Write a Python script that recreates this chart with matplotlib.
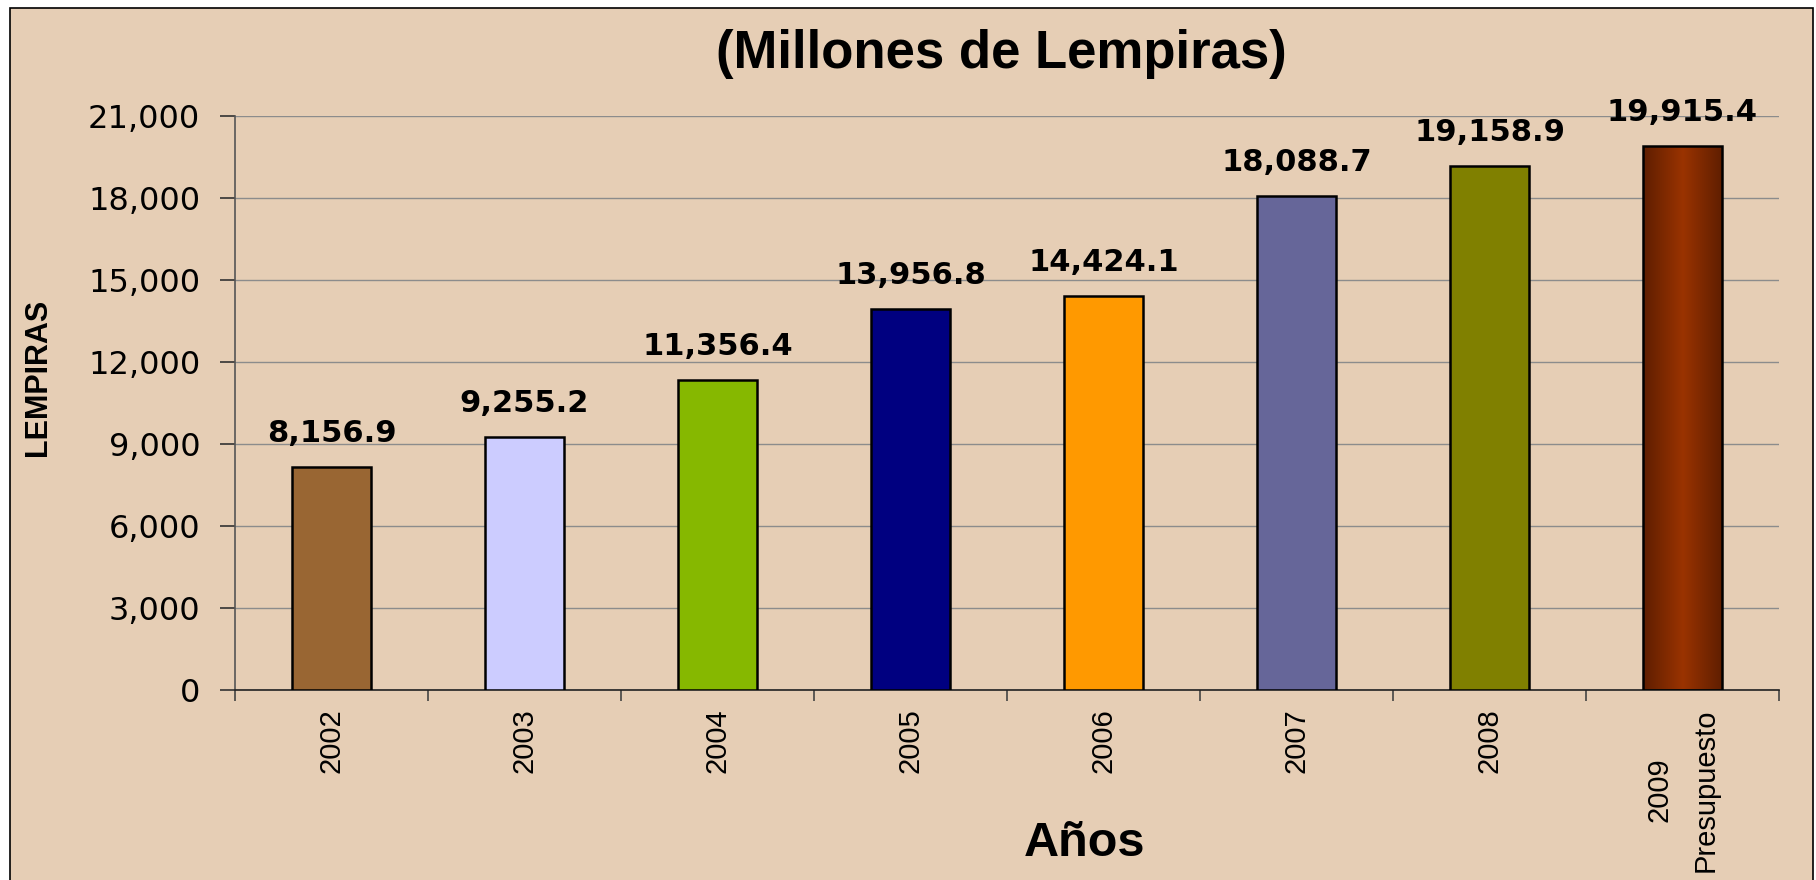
import numpy as np
import matplotlib
matplotlib.use("Agg")
import matplotlib.pyplot as plt
from matplotlib.patches import Rectangle
from matplotlib.ticker import StrMethodFormatter
from matplotlib.colors import LinearSegmentedColormap

plt.rcParams['font.family'] = ['Liberation Sans', 'DejaVu Sans']

# data
years = ['2002', '2003', '2004', '2005', '2006', '2007', '2008', '2009\nPresupuesto']
values = [8156.9, 9255.2, 11356.4, 13956.8, 14424.1, 18088.7, 19158.9, 19915.4]
bar_colors = ['#996633', '#CCCCFF', '#86B800', '#000080', '#FF9900', '#666699', '#808000', 'none']
y_ticks = [0, 3000, 6000, 9000, 12000, 15000, 18000, 21000]

bg = '#E6CEB5'
wide = ['DejaVu Sans']   # the numbers in the original are set wide

fig = plt.figure(figsize=(18.16, 8.8), dpi=100)
fig.patch.set_facecolor('white')

# chart area frame (white strip on top and left like the original)
frame = Rectangle((10 / 1816, -0.02), 1803 / 1816, 1 - 8 / 880 + 0.02,
                  transform=fig.transFigure, facecolor=bg, edgecolor='black',
                  linewidth=1.2, zorder=-10)
fig.patches.append(frame)

ax = fig.add_axes([235 / 1816, 1 - 690 / 880, 1544 / 1816, 574 / 880])
ax.set_facecolor('none')

x = np.arange(len(years))
bars = ax.bar(x, values, width=0.41, color=bar_colors, edgecolor='black',
              linewidth=1.8, zorder=3)

# last bar ("Presupuesto") has a horizontal dark-light-dark gradient
grad_cmap = LinearSegmentedColormap.from_list('brown', ['#5E1E00', '#9A3300', '#5E1E00'])
last = bars[-1]
gx0 = last.get_x()
gx1 = gx0 + last.get_width()
grad = np.linspace(0, 1, 256).reshape(1, -1)
im = ax.imshow(grad, cmap=grad_cmap, aspect='auto', extent=(gx0, gx1, 0, values[-1]),
               zorder=2.5, interpolation='bilinear')
im.set_clip_path(last)

for xi, v in zip(x, values):
    ax.annotate(f'{v:,.1f}', (xi, v), xytext=(0, 18), textcoords='offset points',
                ha='center', va='baseline', fontsize=22, fontweight='bold',
                family=wide)

ax.set_xlim(-0.5, len(years) - 0.5)
ax.set_ylim(0, 21000)
ax.set_yticks(y_ticks)
ax.yaxis.set_major_formatter(StrMethodFormatter('{x:,.0f}'))
ax.tick_params(axis='y', length=11, width=1.2, color='#333333', pad=14, labelsize=23)
for lab in ax.get_yticklabels():
    lab.set_family(wide)

ax.set_xticks(x)
ax.set_xticklabels(years, rotation=90, fontsize=21, multialignment='center',
                   linespacing=1.8)
ax.tick_params(axis='x', which='major', length=0, pad=13)
ax.set_xticks(np.arange(-0.5, len(years)), minor=True)
ax.tick_params(axis='x', which='minor', length=8, width=1.2, color='#444444')

ax.yaxis.grid(True, color='#8C8C8C', linewidth=1)
ax.set_axisbelow(True)

for s in ['top', 'right']:
    ax.spines[s].set_visible(False)
ax.spines['left'].set_color('#555555')
ax.spines['left'].set_linewidth(1.2)
ax.spines['bottom'].set_color('#222222')
ax.spines['bottom'].set_linewidth(1.2)

fig.text(1001 / 1816, 1 - 54 / 880, '(Millones de Lempiras)', ha='center', va='center',
         fontsize=38, fontweight='bold')
fig.text(1085 / 1816, 1 - 856 / 880, 'Años', ha='center', va='baseline',
         fontsize=35, fontweight='bold')
fig.text(38 / 1816, 1 - 377 / 880, 'LEMPIRAS', rotation=90, ha='center', va='center',
         fontsize=22, fontweight='bold')

fig.savefig('out.png', dpi=100, facecolor=fig.get_facecolor())
